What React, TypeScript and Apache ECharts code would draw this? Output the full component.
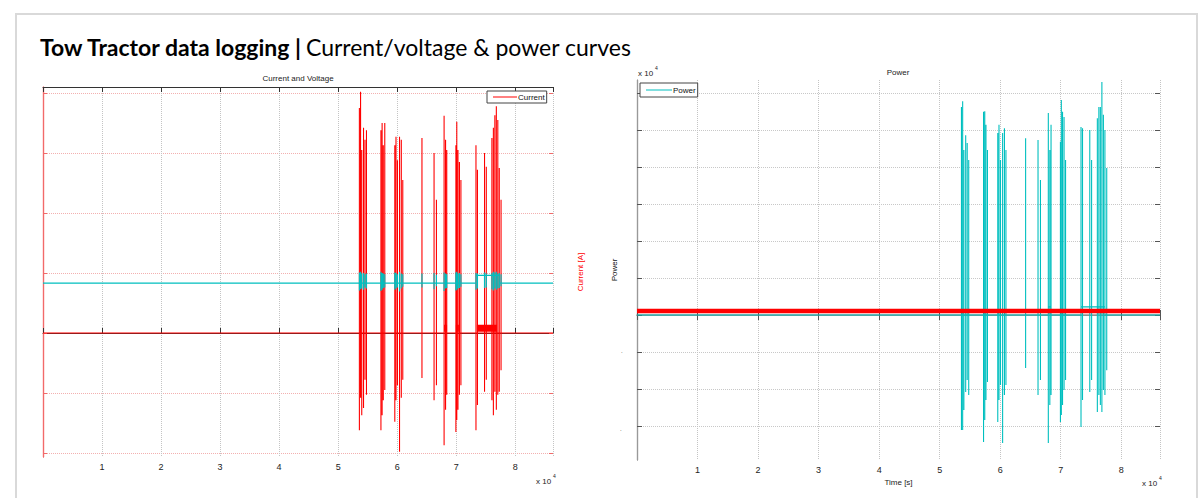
import React, { useEffect, useRef } from "react";
import * as echarts from "echarts";

// ---- time axis ----
const timeMax = 86400;
const timeTickStep = 10000;

// ---- spike events (s) and their extremes ----
const spikeTimes = [
  53600, 53800, 54000, 54300, 54550, 54800,
  57250, 57450, 57650, 57900,
  59600, 59800, 60050, 60400, 60700, 60950,
  64200,
  66250, 66650,
  67950, 68200, 68400,
  69950, 70100, 70300, 70550, 70800,
  73350, 73600, 74800, 75100,
  76050, 76300, 76550, 76800, 77050, 77300, 77600,
];
const currentPeaks = [
  375, 402, 305, 342, 322, 338,
  338, 350, 313, 350,
  313, 327, 288, 327, 322, 255,
  325,
  300, 222,
  362, 322, 305,
  313, 352, 305, 285, 255,
  313, 272, 300, 277,
  325, 342, 363, 378, 355, 275, 222,
];
const currentTroughs = [
  -162, -108, -137, -125, -78, -103,
  -162, -137, -112, -95,
  -148, -112, -87, -198, -108, -78,
  -75,
  -112, -87,
  -187, -128, -103,
  -165, -145, -128, -103, -87,
  -162, -120, -98, -78,
  -112, -137, -98, -128, -103, -98, -62,
];
const powerPeaks = [
  56200, 57800, 44600, 48600, 46500, 41900,
  54900, 55100, 51400, 44600,
  49200, 51400, 41900, 49200, 50500, 44600,
  47800,
  47300, 36500,
  54600, 44600, 51400,
  46800, 58100, 54900, 53500, 41900,
  50800, 50500, 50000, 41900,
  53200, 56200, 56200, 63000, 54100, 50000, 39700,
];
const powerTroughs = [
  -31100, -31100, -25700, -20800, -17600, -21600,
  -34300, -28400, -23000, -18100,
  -28900, -23000, -18900, -34600, -21600, -18900,
  -14300,
  -21600, -17600,
  -34600, -24300, -21600,
  -28900, -27000, -24300, -20300, -17600,
  -30300, -23000, -20800, -17600,
  -26200, -21600, -24300, -26200, -20300, -21600, -14900,
];
const voltageHighs = [
  50.1, 50.2, 49.9, 50.0, 49.8, 49.9,
  50.2, 50.0, 49.9, 49.8,
  50.1, 50.0, 49.8, 50.2, 49.9, 49.8,
  49.9,
  50.0, 49.7,
  50.1, 49.9, 49.8,
  50.1, 50.2, 49.9, 50.0, 49.8,
  50.0, 49.9, 50.1, 49.9,
  50.0, 50.2, 50.1, 50.2, 49.9, 50.0, 49.8,
];
const voltageLows = [
  47.1, 47.3, 47.4, 47.2, 47.6, 47.4,
  47.0, 47.2, 47.5, 47.6,
  47.2, 47.4, 47.6, 46.9, 47.4, 47.7,
  47.6,
  47.3, 47.8,
  47.0, 47.4, 47.5,
  47.1, 47.2, 47.4, 47.5, 47.7,
  47.2, 47.4, 47.5, 47.6,
  47.3, 47.1, 47.4, 47.2, 47.4, 47.5, 47.8,
];

// ---- resting levels and active plateaus ----
const currentBase = 0;
const currentBlockLevel = 8;
const currentBlockStarts = [67950, 69950, 73500];
const currentBlockEnds = [68450, 70450, 76900];
const voltageBase = 48.3;
const voltagePlateau = 49.6;
const voltagePlateauStarts = [73350];
const voltagePlateauEnds = [77300];
const powerBase = 0;
const powerPlateau = 2200;
const powerPlateauStarts = [67950, 73350];
const powerPlateauEnds = [68400, 77300];
const powerReference = 1100;

// ---- axis tick values (labels were not printed in the source) ----
const currentTicks = { min: -200, max: 400, step: 100 };
const voltageTicks = { min: 20, max: 80, step: 10 };
const powerTicks = { min: -30000, max: 60000, step: 10000 };

// ---- layout (pixels) ----
const L = { left: 43, right: 553, top: 87, bottom: 457, tickTop: 93, tickBottom: 453 };
const R = { left: 637, right: 1160, top: 80, bottom: 460, tickTop: 93, tickBottom: 426 };

function extendRange(t: { min: number; max: number }, tickTop: number, tickBottom: number, top: number, bottom: number) {
  const perPx = (t.max - t.min) / (tickBottom - tickTop);
  return { min: t.min - (bottom - tickBottom) * perPx, max: t.max + (tickTop - top) * perPx };
}

function inRanges(t: number, starts: number[], ends: number[]) {
  for (let i = 0; i < starts.length; i++) if (t >= starts[i] && t < ends[i]) return true;
  return false;
}

function buildSpikeLine(
  base: number, plateau: number, starts: number[], ends: number[],
  highs: number[], lows: number[]
) {
  const pts: number[][] = [[0, base]];
  let prev = base;
  spikeTimes.forEach((t, i) => {
    const after = inRanges(t, starts, ends) ? plateau : base;
    pts.push([t, prev], [t, highs[i]], [t, lows[i]], [t, after]);
    prev = after;
  });
  pts.push([timeMax, prev]);
  return pts;
}

const RED = "#ff0000";
const CYAN = "#00bfbf";
const FONT = "Liberation Sans";

export default function App() {
  const ref = useRef<HTMLDivElement>(null);
  useEffect(() => {
    if (!ref.current) return;
    const chart = echarts.init(ref.current, undefined, { renderer: "svg" });

    const curR = extendRange(currentTicks, L.tickTop, L.tickBottom, L.top, L.bottom);
    const volR = extendRange(voltageTicks, L.tickTop, L.tickBottom, L.top, L.bottom);
    const powR = extendRange(powerTicks, R.tickTop, R.tickBottom, R.top, R.bottom);

    const currentData = buildSpikeLine(currentBase, currentBase, [], [], currentPeaks, currentTroughs);
    const voltageData = buildSpikeLine(voltageBase, voltagePlateau, voltagePlateauStarts, voltagePlateauEnds, voltageHighs, voltageLows);
    const powerData = buildSpikeLine(powerBase, powerPlateau, powerPlateauStarts, powerPlateauEnds, powerPeaks, powerTroughs);

    const xLabel = (v: number) => (v > 0 && v % timeTickStep === 0 ? String(v / timeTickStep) : "");
    const labelStyle = { fontFamily: FONT, fontSize: 9, color: "#222", margin: 5, formatter: xLabel };
    const dotted = (c: string) => ({ show: true, lineStyle: { type: "dotted", color: c, width: 1 } });

    const xBase = { type: "value", min: 0, max: timeMax, interval: timeTickStep };

    const blockSeries = currentBlockStarts.map((s, i) => ({
      name: "Current", type: "line", xAxisIndex: 0, yAxisIndex: 0, symbol: "none",
      lineStyle: { color: RED, width: 7 }, itemStyle: { color: RED },
      data: [[s, currentBlockLevel], [currentBlockEnds[i], currentBlockLevel]],
    }));

    const option: any = {
      animation: false,
      backgroundColor: "#ffffff",
      grid: [
        { left: L.left, top: L.top, width: L.right - L.left, height: L.bottom - L.top },
        { left: L.left, top: L.tickTop, width: L.right - L.left, height: L.tickBottom - L.tickTop },
        { left: R.left, top: R.top, width: R.right - R.left, height: R.bottom - R.top },
        { left: R.left, top: R.tickTop, width: R.right - R.left, height: R.tickBottom - R.tickTop },
      ],
      xAxis: [
        { ...xBase, gridIndex: 0, position: "bottom",
          axisLine: { lineStyle: { color: "#333", width: 1 } },
          axisTick: { inside: true, length: 5, lineStyle: { color: "#333" } },
          axisLabel: labelStyle, splitLine: dotted("#c4c4c4") },
        { ...xBase, gridIndex: 0, position: "top",
          axisLine: { lineStyle: { color: "#333", width: 1 } },
          axisTick: { inside: true, length: 5, lineStyle: { color: "#333" } },
          axisLabel: { show: false }, splitLine: { show: false } },
        { ...xBase, gridIndex: 1, show: false },
        { ...xBase, gridIndex: 2, position: "bottom",
          axisLine: { lineStyle: { color: "#777", width: 1 } },
          axisTick: { inside: true, length: 5, lineStyle: { color: "#555" } },
          axisLabel: labelStyle, splitLine: dotted("#c4c4c4"),
          name: "Time [s]", nameLocation: "middle", nameGap: 14,
          nameTextStyle: { fontFamily: FONT, fontSize: 8, color: "#222" } },
        { ...xBase, gridIndex: 2, position: "top",
          axisLine: { lineStyle: { color: "#999", width: 1.5 } },
          axisTick: { inside: true, length: 5, lineStyle: { color: "#555" } },
          axisLabel: { show: false }, splitLine: { show: false } },
        { ...xBase, gridIndex: 3, show: false },
      ],
      yAxis: [
        { type: "value", gridIndex: 0, position: "left", min: curR.min, max: curR.max,
          axisLine: { show: true, lineStyle: { color: "#f26a6a", width: 1.2 } },
          axisTick: { show: false }, axisLabel: { show: false }, splitLine: { show: false } },
        { type: "value", gridIndex: 0, position: "right", min: volR.min, max: volR.max,
          axisLine: { show: true, lineStyle: { color: "#f26a6a", width: 1.2 } },
          axisTick: { show: false }, axisLabel: { show: false }, splitLine: { show: false },
          name: "Current [A]", nameLocation: "middle", nameRotate: 90, nameGap: 23,
          nameTextStyle: { fontFamily: FONT, fontSize: 8, color: RED } },
        { type: "value", gridIndex: 1, position: "left", min: currentTicks.min, max: currentTicks.max, interval: currentTicks.step,
          axisLine: { show: false },
          axisTick: { show: true, inside: true, length: 4, lineStyle: { color: "#f26a6a" } },
          axisLabel: { show: false }, splitLine: dotted("#f3b0b0") },
        { type: "value", gridIndex: 1, position: "right", min: currentTicks.min, max: currentTicks.max, interval: currentTicks.step,
          axisLine: { show: false },
          axisTick: { show: true, inside: true, length: 4, lineStyle: { color: "#f26a6a" } },
          axisLabel: { show: false }, splitLine: { show: false } },
        { type: "value", gridIndex: 2, position: "left", min: powR.min, max: powR.max,
          axisLine: { show: true, lineStyle: { color: "#999", width: 1.2 } },
          axisTick: { show: false }, axisLabel: { show: false }, splitLine: { show: false },
          name: "Power", nameLocation: "middle", nameRotate: 90, nameGap: 19,
          nameTextStyle: { fontFamily: FONT, fontSize: 8, color: "#111" } },
        { type: "value", gridIndex: 2, position: "right", min: powR.min, max: powR.max,
          axisLine: { show: true, lineStyle: { color: "#999", width: 1.2 } },
          axisTick: { show: false }, axisLabel: { show: false }, splitLine: { show: false } },
        { type: "value", gridIndex: 3, position: "left", min: powerTicks.min, max: powerTicks.max, interval: powerTicks.step,
          axisLine: { show: false },
          axisTick: { show: true, inside: true, length: 5, lineStyle: { color: "#555" } },
          axisLabel: { show: false }, splitLine: dotted("#c8c8c8") },
        { type: "value", gridIndex: 3, position: "right", min: powerTicks.min, max: powerTicks.max, interval: powerTicks.step,
          axisLine: { show: false },
          axisTick: { show: true, inside: true, length: 5, lineStyle: { color: "#555" } },
          axisLabel: { show: false }, splitLine: { show: false } },
      ],
      legend: [
        { data: [{ name: "Current", icon: "rect" }], left: 487, top: 91, itemWidth: 24, itemHeight: 1, itemGap: 0,
          padding: [2, 2, 2, 6], borderColor: "#444", borderWidth: 1, backgroundColor: "#fff",
          textStyle: { fontFamily: FONT, fontSize: 8, color: "#111", padding: [0, 0, 0, -4] } },
        { data: [{ name: "Power", icon: "rect" }], left: 640, top: 83, itemWidth: 26, itemHeight: 1, itemGap: 0,
          padding: [3, 2, 3, 6], borderColor: "#444", borderWidth: 1, backgroundColor: "#fff",
          textStyle: { fontFamily: FONT, fontSize: 8, color: "#111", padding: [0, 0, 0, -4] } },
      ],
      series: [
        { name: "Current", type: "line", xAxisIndex: 0, yAxisIndex: 0, symbol: "none",
          lineStyle: { color: RED, width: 1.1 }, itemStyle: { color: RED }, data: currentData },
        ...blockSeries,
        { name: "Voltage", type: "line", xAxisIndex: 0, yAxisIndex: 1, symbol: "none",
          lineStyle: { color: CYAN, width: 1.2 }, itemStyle: { color: CYAN }, data: voltageData },
        { name: "Power", type: "line", xAxisIndex: 3, yAxisIndex: 4, symbol: "none",
          lineStyle: { color: CYAN, width: 1.1 }, itemStyle: { color: CYAN }, data: powerData },
        { name: "Reference", type: "line", xAxisIndex: 3, yAxisIndex: 4, symbol: "none",
          lineStyle: { color: RED, width: 4.5 }, itemStyle: { color: RED },
          data: [[0, powerReference], [timeMax, powerReference]] },
      ],
      graphic: [
        { type: "rect", silent: true, z: -10, shape: { x: 16, y: 14, width: 1181, height: 500 },
          style: { fill: "none", stroke: "#d9d9d9", lineWidth: 2 } },
        { type: "text", x: 40, y: 47, style: {
            text: "{b|Tow Tractor data logging |} {n|Current/voltage & power curves}",
            verticalAlign: "middle", align: "left",
            rich: {
              b: { fontFamily: "Lato", fontWeight: "bold", fontSize: 23, fill: "#000" },
              n: { fontFamily: "Lato", fontWeight: "normal", fontSize: 23, fill: "#000" },
            } } },
        { type: "text", x: 298, y: 78, style: { text: "Current and Voltage", fontFamily: FONT, fontSize: 8, fill: "#222", align: "center", verticalAlign: "middle" } },
        { type: "text", x: 898, y: 72, style: { text: "Power", fontFamily: FONT, fontSize: 8, fill: "#222", align: "center", verticalAlign: "middle" } },
        { type: "text", x: 536, y: 481, style: { text: "x 10", fontFamily: FONT, fontSize: 8, fill: "#222", verticalAlign: "middle" } },
        { type: "text", x: 553, y: 476, style: { text: "4", fontFamily: FONT, fontSize: 5, fill: "#222", verticalAlign: "middle" } },
        { type: "text", x: 1142, y: 483, style: { text: "x 10", fontFamily: FONT, fontSize: 8, fill: "#222", verticalAlign: "middle" } },
        { type: "text", x: 1159, y: 478, style: { text: "4", fontFamily: FONT, fontSize: 5, fill: "#222", verticalAlign: "middle" } },
        { type: "text", x: 638, y: 73, style: { text: "x 10", fontFamily: FONT, fontSize: 8, fill: "#222", verticalAlign: "middle" } },
        { type: "text", x: 655, y: 68, style: { text: "4", fontFamily: FONT, fontSize: 5, fill: "#222", verticalAlign: "middle" } },
        { type: "text", x: 621, y: 351, style: { text: ".", fontFamily: FONT, fontSize: 6, fill: "#222", verticalAlign: "middle" } },
        { type: "text", x: 620, y: 429, style: { text: ".", fontFamily: FONT, fontSize: 6, fill: "#222", verticalAlign: "middle" } },
      ],
    };

    chart.setOption(option);
    return () => chart.dispose();
  }, []);

  return (
    <div
      ref={ref}
      style={{ position: "fixed", left: 0, top: 0, width: 1200, height: 498, background: "#fff" }}
    />
  );
}
